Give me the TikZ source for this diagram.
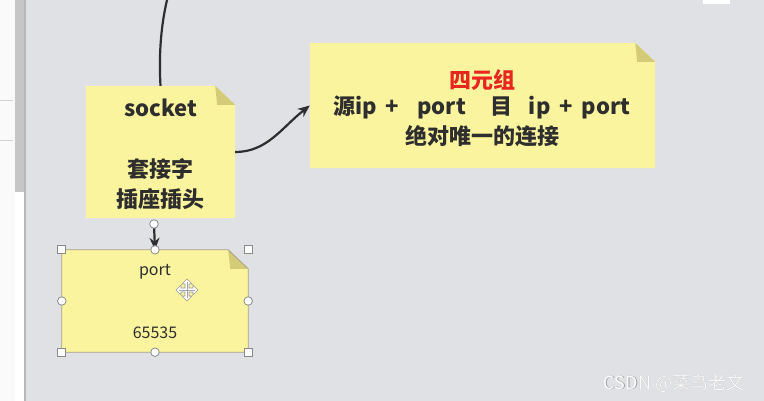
\documentclass[tikz,border=0pt]{standalone}
\usepackage{fontspec}
\setmainfont{Noto Sans CJK SC}
\usetikzlibrary{arrows.meta}
\definecolor{bg}{HTML}{E0E1E5}
\definecolor{notey}{HTML}{FBF49E}
\definecolor{foldc}{HTML}{D3CB78}
\definecolor{ink}{HTML}{2E2E2E}
\definecolor{redt}{HTML}{E8251E}
\definecolor{edgec}{HTML}{A89F86}
\definecolor{hand}{HTML}{8A8A8A}
\begin{document}
\begin{tikzpicture}[x=1pt,y=-1pt,
  notebox/.style={rectangle, draw=none, fill=none, inner sep=0pt},
  bigtxt/.style={font=\fontsize{22}{26}\selectfont\bfseries, text=ink, inner sep=0pt},
  redtxt/.style={font=\fontsize{22}{26}\selectfont\bfseries, text=redt, inner sep=0pt},
  smalltxt/.style={font=\fontsize{16}{19}\selectfont, text=ink, inner sep=0pt},
  conn/.style={draw=ink, line width=2.2pt},
  arr/.style={-{Stealth[length=12pt,width=10pt]}},
  sqh/.style={rectangle, draw=hand, fill=white, minimum size=8pt, inner sep=0pt, line width=0.8pt},
  cih/.style={circle, draw=hand, fill=white, minimum size=8.5pt, inner sep=0pt, line width=0.8pt}
]
\useasboundingbox (0,0) rectangle (764,401);
\fill[bg] (0,0) rectangle (764,401);
% left strip
\fill[white!96!gray] (0,0) rectangle (15,401);
\draw[gray!35, line width=0.6pt] (0,100) -- (13,100);
\draw[gray!35, line width=0.6pt] (0,140) -- (13,140);
\fill[white] (15,0) rectangle (24,401);
\fill[gray!45] (15,0) rectangle (24,192);
\fill[gray!55] (24,0) rectangle (26,401);
\fill[white] (703,0) rectangle (730,4);

% note nodes
\node[notebox, minimum width=149pt, minimum height=132pt] (socket) at (160.5,152) {};
\node[notebox, minimum width=345pt, minimum height=125pt] (tuple) at (482.5,105.5) {};
\node[notebox, minimum width=186pt, minimum height=102pt] (port) at (155,301) {};

\foreach \n in {socket,tuple,port}{
  \fill[notey] (\n.north west) -- ([xshift=-20pt]\n.north east) -- ([yshift=-19pt]\n.north east) -- (\n.south east) -- (\n.south west) -- cycle;
  \fill[foldc] ([xshift=-20pt]\n.north east) -- ([yshift=-19pt]\n.north east) -- ([xshift=-18pt,yshift=-19pt]\n.north east) -- cycle;
}
\draw[edgec, line width=0.8pt] (port.north west) -- ([xshift=-20pt]port.north east) -- ([yshift=-19pt]port.north east) -- (port.south east) -- (port.south west) -- cycle;

% texts
\node[bigtxt] (t1) at (160.5,108) {socket};
\node[bigtxt] (t2) at (160.5,169) {套接字};
\node[bigtxt] (t3) at (160.5,199) {插座插头};
\node[redtxt] (t4) at (482,80) {四元组};
\node[bigtxt] (t5) at (482,107) {源ip\hspace{8pt}+\hspace{19pt}port\hspace{25pt}目\hspace{16pt}ip\hspace{9pt}+\hspace{9pt}port};
\node[bigtxt] (t6) at (482,136) {绝对唯一的连接};
\node[smalltxt] (t7) at (155,272) {port};
\node[smalltxt] (t8) at (155,333) {65535};

% connectors
\coordinate (topend) at (167,0);
\draw[conn] (topend) .. controls (160,30) and (159,60) .. (socket.north);
\draw[conn, arr] (socket.east) .. controls +(32,0) and +(-28,22) .. (tuple.west);
\coordinate (h1) at (154,224);
\draw[conn, arr] (h1) -- (port.north);
\node[cih] (hc) at (h1) {};

% selection handles
\foreach \a in {north west,north east,south west,south east}{\node[sqh] at (port.\a) {};}
\foreach \a in {north,south,east,west}{\node[cih] at (port.\a) {};}

% move cursor
\begin{scope}[shift={(187,290)}]
\filldraw[fill=white, draw=gray!80, line width=0.7pt]
 (0,-11) -- (5,-6) -- (2,-6) -- (2,-2) -- (6,-2) -- (6,-5) -- (11,0) -- (6,5) -- (6,2) -- (2,2) -- (2,6) -- (5,6) -- (0,11) -- (-5,6) -- (-2,6) -- (-2,2) -- (-6,2) -- (-6,5) -- (-11,0) -- (-6,-5) -- (-6,-2) -- (-2,-2) -- (-2,-6) -- (-5,-6) -- cycle;
\draw[gray!70, line width=0.8pt] (0,-8) -- (0,8) (-8,0) -- (8,0);
\end{scope}

% watermark
\node[font=\fontsize{18}{20}\selectfont, text=gray!75, inner sep=0pt] at (674.8,383.8) {CSDN @菜鸟老文};
\node[font=\fontsize{18}{20}\selectfont, text=white!97!gray, inner sep=0pt] (wm) at (674,383) {CSDN @菜鸟老文};
\end{tikzpicture}
\end{document}
